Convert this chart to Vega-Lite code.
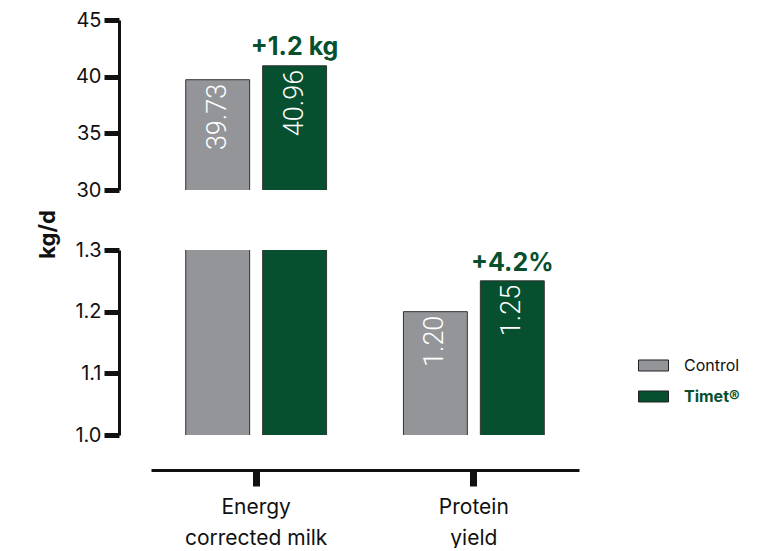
{
  "$schema": "https://vega.github.io/schema/vega-lite/v6.json",
  "background": "white",
  "padding": {"left": 36, "top": 10, "right": 0, "bottom": 0},
  "autosize": {"type": "pad"},
  "bounds": "flush",
  "spacing": 60,
  "config": {
    "view": {"stroke": null},
    "font": "Inter",
    "axis": {"grid": false, "domainColor": "#111", "tickColor": "#111", "labelColor": "#111", "labelFont": "Inter", "labelFontSize": 20, "titleFont": "Inter", "titleColor": "#111"},
    "legend": {"padding": 0}
  },
  "data": {"values": [
    {"metric": "Energy corrected milk", "group": "Control", "value": 39.73, "note": ""},
    {"metric": "Energy corrected milk", "group": "Timet®", "value": 40.96, "note": "+1.2 kg"},
    {"metric": "Protein yield", "group": "Control", "value": 1.20, "note": ""},
    {"metric": "Protein yield", "group": "Timet®", "value": 1.25, "note": "+4.2%"}
  ]},
  "resolve": {"scale": {"x": "independent", "y": "independent", "color": "independent", "xOffset": "independent"}, "legend": {"color": "independent"}},
  "vconcat": [
    {
      "width": 428,
      "height": 170,
      "transform": [{"filter": "datum.metric === 'Energy corrected milk'"}],
      "encoding": {
        "x": {"field": "metric", "type": "nominal", "scale": {"domain": ["Energy corrected milk", "Protein yield"], "paddingInner": 0.3, "paddingOuter": 0.133}, "axis": null},
        "xOffset": {"field": "group", "type": "nominal", "scale": {"domain": ["Control", "Timet®"], "paddingInner": 0.169, "paddingOuter": 0.075}},
        "y": {"field": "value", "type": "quantitative", "scale": {"domain": [30, 45], "zero": false, "nice": false},
          "axis": {"values": [30, 35, 40, 45], "title": null, "offset": 32, "domainWidth": 3, "tickWidth": 5, "tickSize": 15, "labelPadding": 3}}
      },
      "layer": [
        {"mark": {"type": "bar", "clip": true, "stroke": "#333", "strokeWidth": 1},
         "encoding": {"color": {"field": "group", "type": "nominal", "scale": {"domain": ["Control", "Timet®"], "range": ["#939598", "#06502f"]}, "legend": null}}},
        {"mark": {"type": "text", "angle": 270, "align": "right", "baseline": "middle", "dx": -4, "color": "white", "font": "Roboto", "fontWeight": 300, "fontSize": 27},
         "encoding": {"text": {"field": "value", "type": "quantitative", "format": ".2f"}}},
        {"transform": [{"filter": "datum.note"}],
         "mark": {"type": "text", "align": "center", "baseline": "alphabetic", "dy": -11, "color": "#06502f", "fontWeight": "bold", "fontSize": 25},
         "encoding": {"text": {"field": "note", "type": "nominal"}}}
      ]
    },
    {
      "width": 428,
      "height": 185,
      "encoding": {
        "x": {"field": "metric", "type": "nominal", "scale": {"domain": ["Energy corrected milk", "Protein yield"], "paddingInner": 0.3, "paddingOuter": 0.133},
          "axis": {"title": null, "offset": 35, "domainWidth": 3, "tickWidth": 7, "tickSize": 16, "labelPadding": 10, "labelAngle": 0, "labelFontSize": 21, "labelLineHeight": 31, "labelBaseline": "top",
            "labelExpr": "datum.value == 'Energy corrected milk' ? ['Energy', 'corrected milk'] : ['Protein', 'yield']"}},
        "xOffset": {"field": "group", "type": "nominal", "scale": {"domain": ["Control", "Timet®"], "paddingInner": 0.169, "paddingOuter": 0.075}},
        "y": {"field": "value", "type": "quantitative", "scale": {"domain": [1.0, 1.3], "zero": false, "nice": false},
          "axis": {"values": [1.0, 1.1, 1.2, 1.3], "format": ".1f", "title": "kg/d", "titleFontSize": 22, "titleFontWeight": "bold", "titleAngle": 270, "titleAlign": "center", "titleBaseline": "middle", "titleX": -72, "titleY": -16,
            "offset": 32, "domainWidth": 3, "tickWidth": 5, "tickSize": 15, "labelPadding": 3}}
      },
      "layer": [
        {"mark": {"type": "bar", "clip": true, "stroke": "#333", "strokeWidth": 1},
         "encoding": {"color": {"field": "group", "type": "nominal", "scale": {"domain": ["Control", "Timet®"], "range": ["#939598", "#06502f"]},
           "legend": {"title": null, "orient": "none", "legendX": 487, "legendY": 100, "symbolType": "M-1,-0.367H1V0.367H-1Z", "symbolSize": 900, "symbolStrokeColor": "#222", "symbolStrokeWidth": 1, "labelOffset": 15, "rowPadding": 7, "labelFontSize": 16, "labelFont": "Inter",
             "encode": {"labels": {"update": {"fill": {"signal": "datum.value === 'Timet®' ? '#06502f' : '#111'"}, "fontWeight": {"signal": "datum.value === 'Timet®' ? 'bold' : 'normal'"}}}}}}}},
        {"transform": [{"filter": "datum.metric === 'Protein yield'"}],
         "mark": {"type": "text", "angle": 270, "align": "right", "baseline": "middle", "dx": -4, "color": "white", "font": "Roboto", "fontWeight": 300, "fontSize": 27},
         "encoding": {"text": {"field": "value", "type": "quantitative", "format": ".2f"}}},
        {"transform": [{"filter": "datum.note && datum.metric === 'Protein yield'"}],
         "mark": {"type": "text", "align": "center", "baseline": "alphabetic", "dy": -10, "color": "#06502f", "fontWeight": "bold", "fontSize": 25},
         "encoding": {"text": {"field": "note", "type": "nominal"}}}
      ]
    }
  ]
}
